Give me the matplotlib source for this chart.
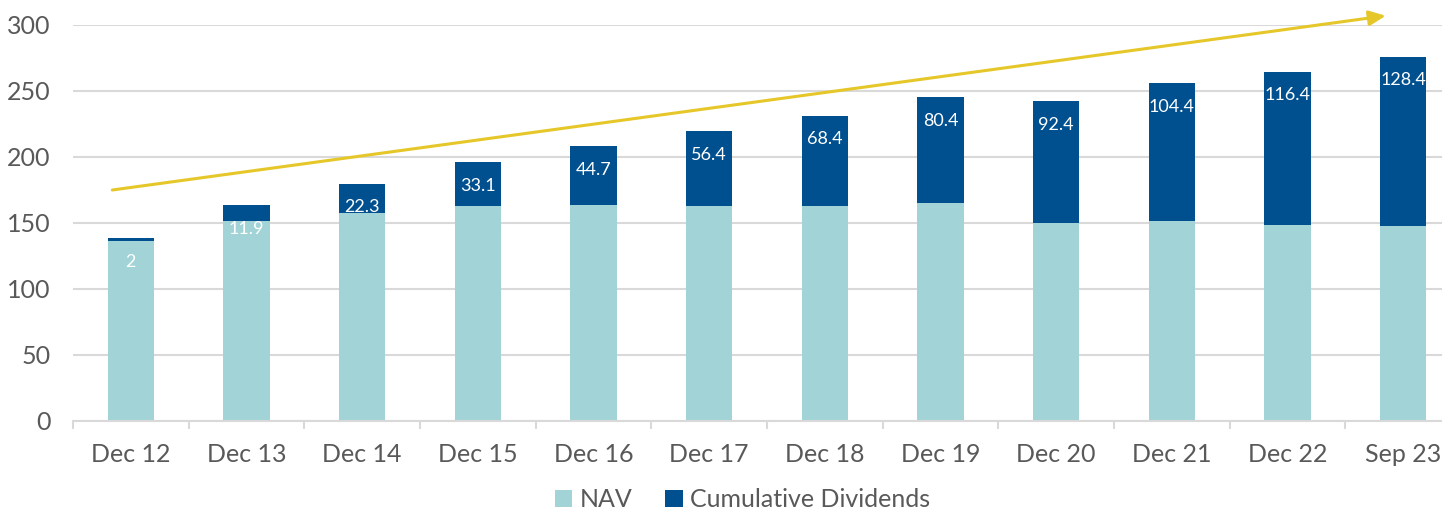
import matplotlib.pyplot as plt
from matplotlib.ticker import FixedLocator

plt.rcParams['font.family'] = ['Lato', 'DejaVu Sans']

categories = ['Dec 12', 'Dec 13', 'Dec 14', 'Dec 15', 'Dec 16', 'Dec 17',
              'Dec 18', 'Dec 19', 'Dec 20', 'Dec 21', 'Dec 22', 'Sep 23']
nav = [136.6, 151.5, 157.6, 163.0, 163.6, 163.0, 163.0, 165.0, 149.8, 151.5, 148.2, 147.5]
dividends = [2, 11.9, 22.3, 33.1, 44.7, 56.4, 68.4, 80.4, 92.4, 104.4, 116.4, 128.4]
div_labels = ['2', '11.9', '22.3', '33.1', '44.7', '56.4', '68.4', '80.4',
              '92.4', '104.4', '116.4', '128.4']
arrow_start = (-0.16, 175)
arrow_end = (10.85, 307)

nav_color = '#A1D3D7'
div_color = '#00508F'
grey = '#595959'

fig = plt.figure(figsize=(14.42, 5.13), dpi=100)
ax = fig.add_axes([73 / 1442, 92 / 513, 1388 / 1442, 396 / 513])

x = list(range(len(categories)))
ax.bar(x, nav, width=0.4, color=nav_color, label='NAV', zorder=2)
ax.bar(x, dividends, width=0.4, bottom=nav, color=div_color,
       label='Cumulative Dividends', zorder=2)

for i in x:
    ax.annotate(div_labels[i], (i, nav[i] + dividends[i]), xytext=(0, -17),
                textcoords='offset points', ha='center', va='center',
                color='white', fontsize=13, zorder=3)

ax.annotate('', xy=arrow_end, xytext=arrow_start,
            arrowprops=dict(arrowstyle='-|>,head_length=1.0,head_width=0.45',
                            color='#E6C72A', lw=2.2, shrinkA=0, shrinkB=0),
            annotation_clip=False, zorder=4)

ax.set_xlim(-0.5, 11.5)
ax.set_ylim(0, 300)
ax.set_yticks(range(0, 301, 50))
ax.yaxis.grid(True, color='#D9D9D9', lw=1.5, zorder=0)
ax.set_axisbelow(True)

ax.set_xticks(x)
ax.set_xticklabels(categories)
ax.xaxis.set_minor_locator(FixedLocator([i - 0.5 for i in range(13)]))
ax.tick_params(axis='x', which='major', length=0, pad=16, labelsize=18, labelcolor=grey)
ax.tick_params(axis='x', which='minor', length=6, width=1.5, color='#D9D9D9')
ax.tick_params(axis='y', length=0, pad=16, labelsize=18, labelcolor=grey)

for s in ['top', 'right', 'left']:
    ax.spines[s].set_visible(False)
ax.spines['bottom'].set_color('#D9D9D9')
ax.spines['bottom'].set_linewidth(1.5)

fig.legend(loc='lower center', bbox_to_anchor=(0.515, -0.04), ncol=2,
           frameon=False, fontsize=18, handlelength=0.7, handleheight=0.7,
           handletextpad=0.3, columnspacing=1.3, labelcolor=grey)

fig.savefig('out.png', dpi=100)
